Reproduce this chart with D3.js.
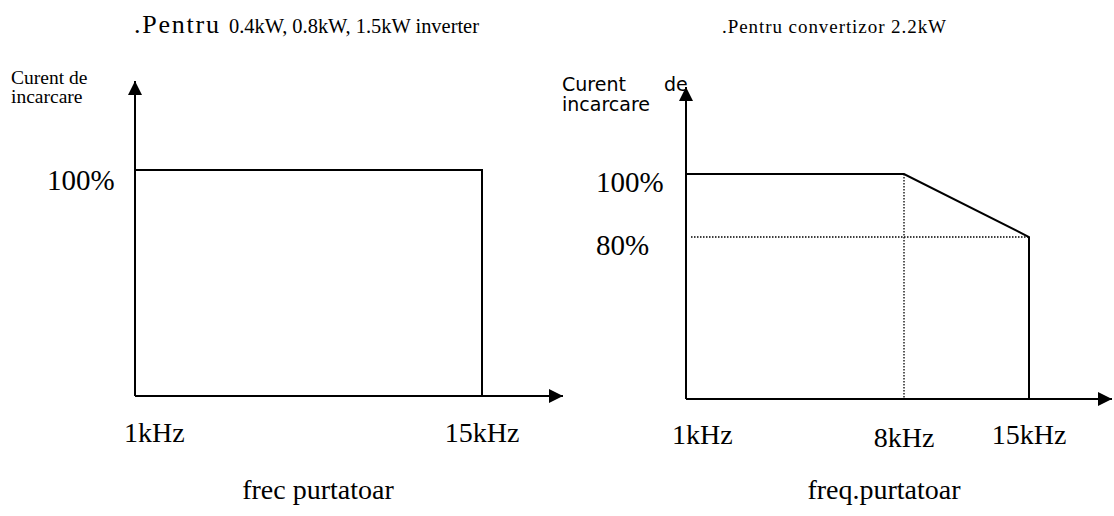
<!DOCTYPE html>
<html>
<head>
<meta charset="utf-8">
<script src="https://cdn.jsdelivr.net/npm/d3@7"></script>
<style>
  html, body { margin: 0; padding: 0; background: #fff; }
  svg { display: block; }
  .serif { font-family: "Liberation Serif", "Times New Roman", serif; fill: #000; }
  .sans { font-family: "DejaVu Sans", sans-serif; fill: #000; }
</style>
</head>
<body>
<svg id="chart" width="1114" height="516"></svg>
<script>
// Derating of load current versus carrier frequency
const smallFreq = [1, 15];          // kHz
const smallLoad = [100, 100];       // % of rated current
const bigFreq = [1, 8, 15];         // kHz
const bigLoad = [100, 100, 80];     // % of rated current

const smallFreqTicks = ["1kHz", "15kHz"];
const bigFreqTicks = ["1kHz", "8kHz", "15kHz"];
const smallLoadTicks = ["100%"];
const bigLoadTicks = ["100%", "80%"];

const svg = d3.select("#chart");
const black = "#000";

// Arrow heads for the axes
const defs = svg.append("defs");
defs.append("marker")
  .attr("id", "arrow")
  .attr("viewBox", "0 0 14 14")
  .attr("refX", 14).attr("refY", 7)
  .attr("markerWidth", 14).attr("markerHeight", 14)
  .attr("markerUnits", "userSpaceOnUse")
  .attr("orient", "auto")
  .append("path").attr("d", "M0,0 L14,7 L0,14 Z").attr("fill", black);

function axes(g, x0, y0, xEnd, yEnd) {
  g.append("line").attr("x1", x0).attr("y1", y0).attr("x2", x0).attr("y2", yEnd)
    .attr("stroke", black).attr("stroke-width", 2).attr("marker-end", "url(#arrow)");
  g.append("line").attr("x1", x0).attr("y1", y0).attr("x2", xEnd).attr("y2", y0)
    .attr("stroke", black).attr("stroke-width", 2).attr("marker-end", "url(#arrow)");
}

// ---------- Left panel: 0.4 / 0.8 / 1.5 kW ----------
{
  const x = d3.scaleLinear().domain([1, 15]).range([135, 482]);
  const y = d3.scaleLinear().domain([0, 100]).range([396, 170]);
  const g = svg.append("g");

  axes(g, x(1), y(0), 563, 81);

  const pts = smallFreq.map((f, i) => [x(f), y(smallLoad[i])]);
  pts.push([x(smallFreq[smallFreq.length - 1]), y(0)]);
  g.append("path")
    .attr("d", d3.line()(pts))
    .attr("fill", "none").attr("stroke", black).attr("stroke-width", 2);

  g.selectAll("text.xt").data(smallFreq).join("text")
    .attr("class", "serif xt")
    .attr("x", (d, i) => i === 0 ? x(d) - 11 : x(d))
    .attr("y", 442)
    .attr("text-anchor", (d, i) => i === 0 ? "start" : "middle")
    .attr("font-size", 28)
    .text((d, i) => smallFreqTicks[i]);

  g.selectAll("text.yt").data([100]).join("text")
    .attr("class", "serif yt")
    .attr("x", x(1) - 88).attr("y", d => y(d) + 20)
    .attr("font-size", 29)
    .text((d, i) => smallLoadTicks[i]);

  g.append("text").attr("class", "serif").attr("x", 11).attr("y", 84)
    .attr("font-size", 19.5).text("Curent de");
  g.append("text").attr("class", "serif").attr("x", 11).attr("y", 103)
    .attr("font-size", 19.5).text("incarcare");

  g.append("text").attr("class", "serif").attr("x", 318).attr("y", 499)
    .attr("text-anchor", "middle").attr("font-size", 28).text("frec purtatoar");

  g.append("text").attr("class", "serif").attr("x", 134).attr("y", 33)
    .attr("font-size", 26).attr("textLength", 85).attr("lengthAdjust", "spacing")
    .text(".Pentru");
  g.append("text").attr("class", "serif").attr("x", 229).attr("y", 33)
    .attr("font-size", 20).attr("textLength", 250).attr("lengthAdjust", "spacingAndGlyphs")
    .text("0.4kW, 0.8kW, 1.5kW inverter");
}

// ---------- Right panel: 2.2 kW ----------
{
  const x = d3.scaleLinear().domain([1, 8, 15]).range([686, 904, 1029]);
  const y = d3.scaleLinear().domain([0, 80, 100]).range([399, 237, 174]);
  const g = svg.append("g");

  // dotted guides through the knee and the 80% level
  g.append("line")
    .attr("x1", x(bigFreq[1])).attr("y1", y(bigLoad[1]))
    .attr("x2", x(bigFreq[1])).attr("y2", y(0))
    .attr("stroke", black).attr("stroke-width", 1.3).attr("stroke-dasharray", "1.5,1.5");
  g.append("line")
    .attr("x1", x(1) + 5).attr("y1", y(bigLoad[2]))
    .attr("x2", x(bigFreq[2])).attr("y2", y(bigLoad[2]))
    .attr("stroke", black).attr("stroke-width", 1.3).attr("stroke-dasharray", "1.5,1.5");

  axes(g, x(1), y(0), 1112, 87);

  const pts = bigFreq.map((f, i) => [x(f), y(bigLoad[i])]);
  pts.push([x(bigFreq[bigFreq.length - 1]), y(0)]);
  g.append("path")
    .attr("d", d3.line()(pts))
    .attr("fill", "none").attr("stroke", black).attr("stroke-width", 2);

  g.selectAll("text.xt").data(bigFreq).join("text")
    .attr("class", "serif xt")
    .attr("x", (d, i) => i === 0 ? x(d) - 14 : x(d))
    .attr("y", (d, i) => i === 1 ? 447 : 444)
    .attr("text-anchor", (d, i) => i === 0 ? "start" : "middle")
    .attr("font-size", 28)
    .text((d, i) => bigFreqTicks[i]);

  g.selectAll("text.yt").data([100, 80]).join("text")
    .attr("class", "serif yt")
    .attr("x", x(1) - 90).attr("y", d => y(d) + 18)
    .attr("font-size", 29)
    .text((d, i) => bigLoadTicks[i]);

  g.append("text").attr("class", "sans").attr("x", 562).attr("y", 91)
    .attr("font-size", 19).text("Curent");
  g.append("text").attr("class", "sans").attr("x", 664).attr("y", 91)
    .attr("font-size", 19).text("de");
  g.append("text").attr("class", "sans").attr("x", 562).attr("y", 111)
    .attr("font-size", 19).text("incarcare");

  g.append("text").attr("class", "serif").attr("x", 884).attr("y", 499)
    .attr("text-anchor", "middle").attr("font-size", 28).text("freq.purtatoar");

  g.append("text").attr("class", "serif").attr("x", 722).attr("y", 33)
    .attr("font-size", 19).attr("textLength", 224).attr("lengthAdjust", "spacing")
    .text(".Pentru convertizor 2.2kW");
}
</script>
</body>
</html>
